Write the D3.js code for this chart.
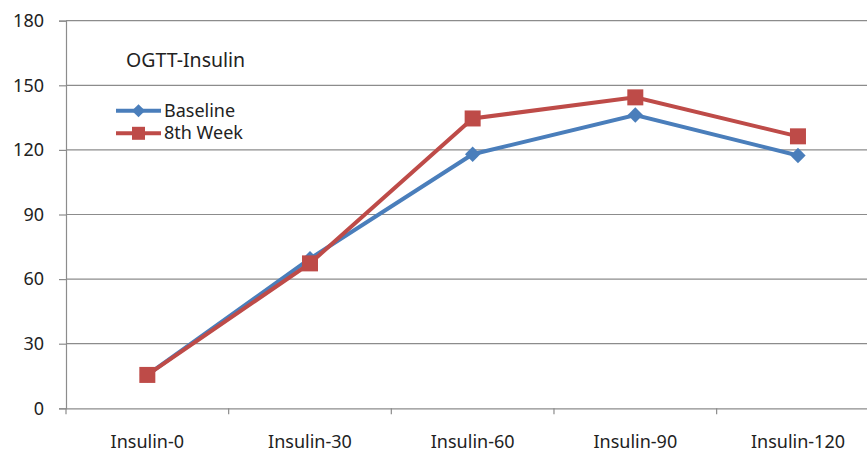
<!DOCTYPE html>
<html>
<head>
<meta charset="utf-8">
<script src="https://cdn.jsdelivr.net/npm/d3@7"></script>
<style>
  body { margin: 0; background: #fff; }
  svg { display: block; font-family: "Noto Sans", sans-serif; }
</style>
</head>
<body>
<div id="chart"></div>
<script>
const categories = ["Insulin-0", "Insulin-30", "Insulin-60", "Insulin-90", "Insulin-120"];
const baseline = [15.5, 69.5, 118, 136.2, 117.4];
const week8 = [15.5, 67.3, 134.6, 144.4, 126.3];
const yTicks = [0, 30, 60, 90, 120, 150, 180];
const seriesNames = ["Baseline", "8th Week"];

const width = 867, height = 453;
const plotLeft = 66, plotRight = 879.3, plotTop = 20.7, plotBottom = 408.3;

const svg = d3.select("#chart").append("svg")
    .attr("width", width)
    .attr("height", height);

const x = d3.scaleBand().domain(categories).range([plotLeft, plotRight]);
const y = d3.scaleLinear().domain([0, 180]).range([plotBottom, plotTop]);

// gridlines
svg.append("g")
    .selectAll("line")
    .data(yTicks.filter(d => d > 0))
    .enter().append("line")
    .attr("x1", plotLeft).attr("x2", plotRight)
    .attr("y1", d => y(d)).attr("y2", d => y(d))
    .attr("stroke", "#8c8c8c")
    .attr("stroke-width", 1.2);

const yAxis = svg.append("g")
    .attr("transform", `translate(${plotLeft},0)`)
    .call(d3.axisLeft(y).tickValues(yTicks).tickSize(7).tickPadding(15));

const xAxis = svg.append("g")
    .attr("transform", `translate(0,${plotBottom})`)
    .call(d3.axisBottom(x).tickSize(0).tickPadding(27));

// tick marks between categories
svg.append("g")
    .selectAll("line")
    .data(categories)
    .enter().append("line")
    .attr("x1", d => x(d)).attr("x2", d => x(d))
    .attr("y1", plotBottom).attr("y2", plotBottom + 6)
    .attr("stroke", "#8c8c8c")
    .attr("stroke-width", 1.2);

[yAxis, xAxis].forEach(g => {
    g.selectAll(".domain").attr("stroke", "#8c8c8c").attr("stroke-width", 1.2);
    g.selectAll(".tick line").attr("stroke", "#8c8c8c").attr("stroke-width", 1.2);
    g.selectAll("text")
        .attr("font-family", "Noto Sans, sans-serif")
        .attr("font-size", 18)
        .attr("fill", "#222");
});

const cx = d => x(d) + x.bandwidth() / 2;

const line = d3.line()
    .x((d, i) => cx(categories[i]))
    .y(d => y(d));

const blue = "#4a7ebb", red = "#be4b48";

svg.append("path")
    .datum(baseline)
    .attr("d", line)
    .attr("fill", "none")
    .attr("stroke", blue)
    .attr("stroke-width", 4);

svg.append("g")
    .selectAll("path")
    .data(baseline)
    .enter().append("path")
    .attr("d", d3.symbol().type(d3.symbolDiamond2).size(150))
    .attr("transform", (d, i) => `translate(${cx(categories[i])},${y(d)})`)
    .attr("fill", blue);

svg.append("path")
    .datum(week8)
    .attr("d", line)
    .attr("fill", "none")
    .attr("stroke", red)
    .attr("stroke-width", 4);

svg.append("g")
    .selectAll("rect")
    .data(week8)
    .enter().append("rect")
    .attr("x", (d, i) => cx(categories[i]) - 8)
    .attr("y", d => y(d) - 8)
    .attr("width", 16)
    .attr("height", 16)
    .attr("fill", red);

// title
svg.append("text")
    .attr("x", 126)
    .attr("y", 67)
    .attr("font-size", 19.5)
    .attr("fill", "#222")
    .text("OGTT-Insulin");

// legend
const legend = svg.append("g");
const legY = [110.7, 133.3];
seriesNames.forEach((name, i) => {
    const col = i === 0 ? blue : red;
    legend.append("line")
        .attr("x1", 116).attr("x2", 161)
        .attr("y1", legY[i]).attr("y2", legY[i])
        .attr("stroke", col).attr("stroke-width", 4);
    if (i === 0) {
        legend.append("path")
            .attr("d", d3.symbol().type(d3.symbolDiamond2).size(110))
            .attr("transform", `translate(138.5,${legY[i]})`)
            .attr("fill", col);
    } else {
        legend.append("rect")
            .attr("x", 132).attr("y", legY[i] - 6.5)
            .attr("width", 13).attr("height", 13)
            .attr("fill", col);
    }
    legend.append("text")
        .attr("x", 164)
        .attr("y", legY[i] + 6)
        .attr("font-size", 18)
        .attr("fill", "#222")
        .text(name);
});
</script>
</body>
</html>
